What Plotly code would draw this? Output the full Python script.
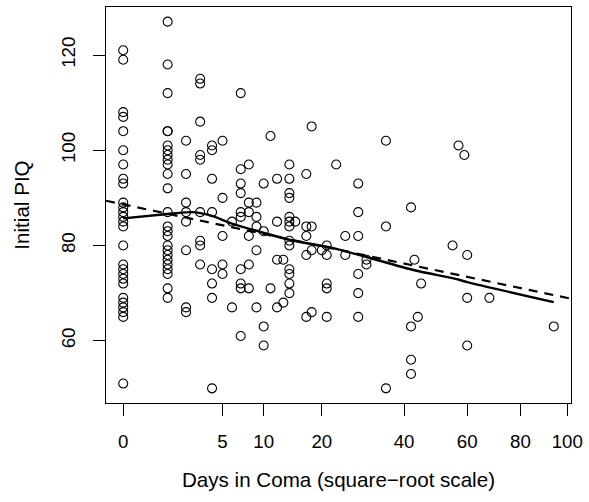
import numpy as np
import plotly.graph_objects as go

# Days in coma and initial performance IQ, one entry per patient
days = (
    [0] * 27
    + [1] * 25
    + [2] * 8
    + [3] * 9
    + [4] * 8
    + [5] * 5
    + [6] * 2
    + [7] * 10
    + [8] * 6
    + [9] * 5
    + [10] * 4
    + [11] * 2
    + [12] * 4
    + [13] * 2
    + [14] * 13
    + [15]
    + [17] * 5
    + [18] * 4
    + [20]
    + [21] * 5
    + [23]
    + [25] * 2
    + [28] * 6
    + [30] * 2
    + [35] * 3
    + [42] * 4
    + [43, 44, 45, 55, 57, 59]
    + [60] * 3
    + [68, 94]
)
piq = [
    # 0 days
    121, 119, 108, 107, 104, 100, 97, 94, 93, 89, 88, 87, 86, 85, 84, 80,
    76, 75, 74, 73, 72, 69, 68, 67, 66, 65, 51,
    # 1 day
    127, 118, 112, 104, 104, 101, 100, 99, 98, 97, 95, 92, 87, 84, 83, 82,
    80, 79, 78, 77, 76, 75, 74, 71, 69,
    # 2 days
    102, 95, 89, 87, 85, 79, 67, 66,
    # 3 days
    115, 114, 106, 99, 98, 87, 81, 80, 76,
    # 4 days
    101, 100, 94, 87, 75, 72, 69, 50,
    # 5 days
    102, 90, 82, 76, 74,
    # 6 days
    85, 67,
    # 7 days
    112, 96, 93, 91, 87, 86, 75, 72, 71, 61,
    # 8 days
    97, 89, 87, 82, 76, 71,
    # 9 days
    89, 86, 84, 79, 67,
    # 10 days
    93, 83, 63, 59,
    # 11 days
    103, 71,
    # 12 days
    94, 85, 77, 67,
    # 13 days
    77, 68,
    # 14 days
    97, 94, 91, 90, 86, 85, 84, 81, 80, 75, 74, 72, 70,
    # 15 days
    85,
    # 17 days
    95, 84, 82, 78, 65,
    # 18 days
    105, 84, 79, 66,
    # 20 days
    79,
    # 21 days
    80, 78, 72, 71, 65,
    # 23 days
    97,
    # 25 days
    82, 78,
    # 28 days
    93, 87, 82, 74, 70, 65,
    # 30 days
    77, 76,
    # 35 days
    102, 84, 50,
    # 42 days
    88, 63, 56, 53,
    # 43, 44, 45, 55, 57, 59 days
    77, 65, 72, 80, 101, 99,
    # 60 days
    78, 69, 59,
    # 68, 94 days
    69, 63,
]

# Nonparametric smooth of PIQ against sqrt(days)
smooth_days = [0, 1, 2.5, 4, 6, 14, 23, 43, 56, 60, 94]
smooth_piq = [85.7, 86.6, 87.0, 86.2, 84.6, 81.2, 79.3, 74.8, 73.0, 72.3, 68.1]

tick_days = [0, 5, 10, 20, 40, 60, 80, 100]
tick_piq = [60, 80, 100, 120]

sx = np.sqrt(np.array(days, dtype=float))
py = np.array(piq, dtype=float)

# Axis limits padded by 4% of the data span on each side
def padded(lo, hi, frac=0.04):
    d = (hi - lo) * frac
    return [lo - d, hi + d]

x_range = padded(sx.min(), sx.max())
y_range = padded(py.min(), py.max())

# Least-squares line of PIQ on sqrt(days)
slope, intercept = np.polyfit(sx, py, 1)
fit_x = np.array(x_range)
fit_y = intercept + slope * fit_x

family = "Liberation Sans, Arial, Helvetica, sans-serif"
tick_font = dict(family=family, size=18.7, color="black")
title_font = dict(family=family, size=20.6, color="black")

fig = go.Figure()
fig.add_trace(go.Scatter(
    x=sx, y=py, mode="markers",
    marker=dict(symbol="circle-open", size=9, color="black", line=dict(width=1.1, color="black")),
    showlegend=False, hoverinfo="skip",
))
fig.add_trace(go.Scatter(
    x=fit_x, y=fit_y, mode="lines",
    line=dict(color="black", width=2.2, dash="9px,7px"),
    showlegend=False, hoverinfo="skip",
))
fig.add_trace(go.Scatter(
    x=np.sqrt(smooth_days), y=smooth_piq, mode="lines",
    line=dict(color="black", width=2.4, shape="spline", smoothing=0.6),
    showlegend=False, hoverinfo="skip",
))

axis_common = dict(
    showgrid=False, zeroline=False, showline=True, mirror=True,
    linecolor="black", linewidth=1, ticks="outside", ticklen=12,
    tickwidth=1, tickcolor="black", tickfont=tick_font,
)

fig.update_layout(
    width=589, height=502,
    margin=dict(l=106, r=13, t=6, b=99),
    paper_bgcolor="white", plot_bgcolor="white",
    font=tick_font,
    xaxis=dict(
        range=x_range,
        tickvals=np.sqrt(tick_days), ticktext=[str(v) for v in tick_days],
        ticklabelstandoff=10,
        title=dict(text="Days in Coma (square\u2212root scale)", font=title_font, standoff=21),
        **axis_common,
    ),
    yaxis=dict(
        range=y_range,
        tickvals=tick_piq, ticktext=[str(v) for v in tick_piq],
        tickangle=-90, ticklabelstandoff=11,
        title=dict(text="Initial PIQ", font=title_font, standoff=22),
        **axis_common,
    ),
)

fig.write_html("out.html")
